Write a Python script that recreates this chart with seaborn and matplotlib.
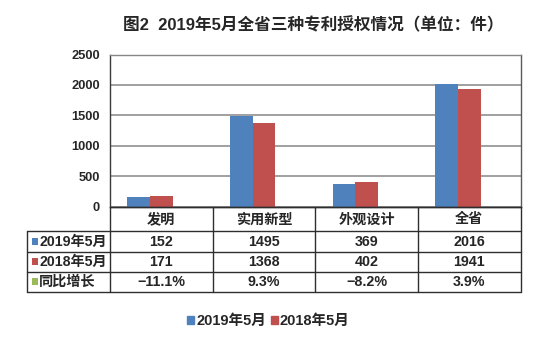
import matplotlib
matplotlib.use('Agg')
import matplotlib.pyplot as plt
import seaborn as sns
import pandas as pd
from matplotlib.patches import Patch, Rectangle
from matplotlib.transforms import blended_transform_factory

# ---------------- data ----------------
categories = ['发明', '实用新型', '外观设计', '全省']
series_names = ['2019年5月', '2018年5月', '同比增长']
values_2019 = [152, 1495, 369, 2016]
values_2018 = [171, 1368, 402, 1941]
growth_pct = [-11.1, 9.3, -8.2, 3.9]
y_ticks = [0, 500, 1000, 1500, 2000, 2500]
colors = ['#4F81BD', '#C0504D', '#9BBB59']
title = '图2  2019年5月全省三种专利授权情况（单位：件）'

# ---------------- style ----------------
sns.set_style('white')
FAM = ['Liberation Sans', 'Noto Sans CJK SC', 'DejaVu Sans']
plt.rcParams['font.family'] = FAM
plt.rcParams['font.weight'] = 'bold'

W, H = 552, 346
fig = plt.figure(figsize=(W / 100, H / 100), dpi=100)
fig.patch.set_facecolor('white')

# plot area (pixels)
L, R, T, B = 110, 520.7, 54.5, 206.7
ax = fig.add_axes([L / W, 1 - B / H, (R - L) / W, (B - T) / H])

df = pd.DataFrame({
    'cat': categories * 3,
    'series': [s for s in series_names for _ in categories],
    'value': values_2019 + values_2018 + [g / 100 for g in growth_pct],
})
sns.barplot(data=df, x='cat', y='value', hue='series', order=categories,
            hue_order=series_names, palette=colors, saturation=1,
            width=0.662, errorbar=None, legend=False, ax=ax, linewidth=0)

grid_c = '#868686'
ax.set_ylim(y_ticks[0], y_ticks[-1])
ax.set_yticks(y_ticks)
ax.set_yticklabels([str(v) for v in y_ticks])
ax.set_xlim(-0.5, len(categories) - 0.5)
ax.yaxis.grid(True, color=grid_c, lw=1.1)
ax.xaxis.grid(False)
ax.set_axisbelow(True)
ax.set_xlabel('')
ax.set_ylabel('')
ax.tick_params(axis='y', length=0, pad=7.2, labelsize=9.3)
ax.tick_params(axis='x', length=0, labelbottom=False)
for lab in ax.get_yticklabels():
    lab.set_fontweight('bold')
ax.spines['top'].set_color(grid_c)
ax.spines['top'].set_linewidth(1.1)
ax.spines['right'].set_color('#5a5a5a')
ax.spines['left'].set_color('#3a3a3a')
ax.spines['bottom'].set_color('#2a2a2a')
for s in ax.spines.values():
    s.set_linewidth(1.0)

# ---------------- data table ----------------
ov = fig.add_axes([0, 0, 1, 1])
ov.set_xlim(0, W)
ov.set_ylim(H, 0)
ov.axis('off')
ov.patch.set_alpha(0)
tr = blended_transform_factory(ax.transData, ov.transData)

line_c = '#2e2e2e'
lw = 1.0
rows_y = [206.7, 231.0, 251.7, 271.7, 291.7]
left_x = 26.7
ncat = len(categories)
bounds = [i - 0.5 for i in range(ncat + 1)]

ov.plot([bounds[0], bounds[-1]], [rows_y[0], rows_y[0]], transform=tr, color=line_c, lw=lw)
for y in rows_y[1:]:
    ov.plot([left_x, R], [y, y], color=line_c, lw=lw)
for xb in bounds:
    ov.plot([xb, xb], [rows_y[0], rows_y[-1]], transform=tr, color=line_c, lw=lw)
ov.plot([left_x, left_x], [rows_y[1], rows_y[-1]], color=line_c, lw=lw)

def yc(i):
    return (rows_y[i] + rows_y[i + 1]) / 2

for i, c in enumerate(categories):
    ov.text(i, yc(0) + 0.5, c, transform=tr, ha='center', va='center',
            fontsize=10.2, fontweight='bold', family=FAM)

row_texts = [
    [str(v) for v in values_2019],
    [str(v) for v in values_2018],
    [('−' if g < 0 else '') + f'{abs(g):.1f}%' for g in growth_pct],
]
for r, texts in enumerate(row_texts):
    for i, t in enumerate(texts):
        ov.text(i, yc(r + 1) + 0.5, t, transform=tr, ha='center', va='center',
                fontsize=10.3, fontweight='bold', family=FAM)
    # legend key + row label
    sq = 6.6
    ov.add_patch(Rectangle((31.7, yc(r + 1) - sq / 2), sq, sq, color=colors[r], lw=0))
    ov.text(39.0, yc(r + 1) + 0.5, series_names[r], ha='left', va='center',
            fontsize=10.2, fontweight='bold', family=FAM)

# ---------------- title ----------------
fig.text(313.3 / W, 1 - 25 / H, title, ha='center', va='center',
         fontsize=12, fontweight='bold', family=FAM)

# ---------------- legend ----------------
handles = [Patch(color=colors[k], label=series_names[k]) for k in range(2)]
fig.legend(handles=handles, loc='center', bbox_to_anchor=(268.6 / W, 1 - 321 / H),
           ncol=2, frameon=False, prop=dict(size=10.5, weight='bold', family=FAM),
           handlelength=0.45, handleheight=0.45, handletextpad=0.15,
           columnspacing=0.35, borderpad=0)

fig.savefig('out.png', dpi=100)
